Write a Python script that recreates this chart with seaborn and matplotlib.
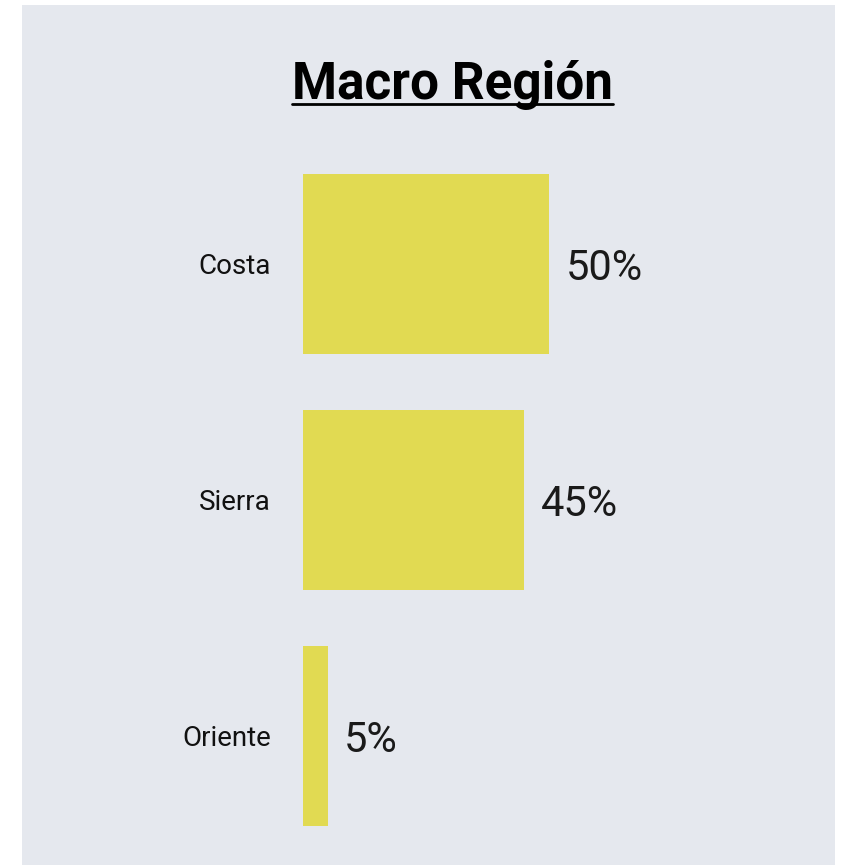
import matplotlib
matplotlib.use("Agg")
import matplotlib.pyplot as plt
import seaborn as sns
import pandas as pd
from matplotlib.patches import Rectangle
from matplotlib.lines import Line2D

regiones = ["Costa", "Sierra", "Oriente"]
porcentajes = [50, 45, 5]
etiquetas = ["50%", "45%", "5%"]

df = pd.DataFrame({"region": regiones, "pct": porcentajes})

sns.set_theme(style="white")
plt.rcParams["font.family"] = ["Roboto", "DejaVu Sans"]

W, H = 846, 865
fig = plt.figure(figsize=(W / 100, H / 100), dpi=100)
fig.patch.set_facecolor("white")

# panel gris de fondo
fig.patches.append(Rectangle((22 / W, 0), (835 - 22) / W, (H - 5) / H,
                             transform=fig.transFigure, facecolor="#e5e8ee",
                             edgecolor="none", zorder=-10))

# ejes: x desde 303 px, 4.92 px por punto porcentual
ax_left, ax_w = 303, 492
ax_top, ax_h = 146, 708
ax = fig.add_axes([ax_left / W, 1 - (ax_top + ax_h) / H, ax_w / W, ax_h / H])
ax.set_facecolor("none")
ax.set_zorder(5)

sns.barplot(data=df, x="pct", y="region", orient="h", color="#e1da52",
            saturation=1, width=0.763, linewidth=0, ax=ax)
ax.set_xlim(0, 100)
ax.set_ylim(2.5, -0.5)

for i, t in enumerate(etiquetas):
    ax.annotate(t, (porcentajes[i], i), xytext=(12, -3), textcoords="offset points",
                va="center", ha="left", fontsize=30, fontweight="normal", color="#1a1a1a")

ax.set_xlabel("")
ax.set_ylabel("")
ax.set_xticks([])
ax.tick_params(axis="y", length=0, pad=23, labelsize=20, labelcolor="#111111")
sns.despine(ax=ax, left=True, bottom=True)

title = fig.text(452 / W, 1 - 85 / H, "Macro Región", ha="center", va="center",
                 fontsize=37, fontweight="bold", color="black")

# subrayado del título
fig.canvas.draw()
bb = title.get_window_extent()
y_line = 1 - 104 / H
fig.lines.append(Line2D([bb.x0 / W, bb.x1 / W], [y_line, y_line], transform=fig.transFigure,
                        color="black", linewidth=2))

fig.savefig("out.png", dpi=100)
